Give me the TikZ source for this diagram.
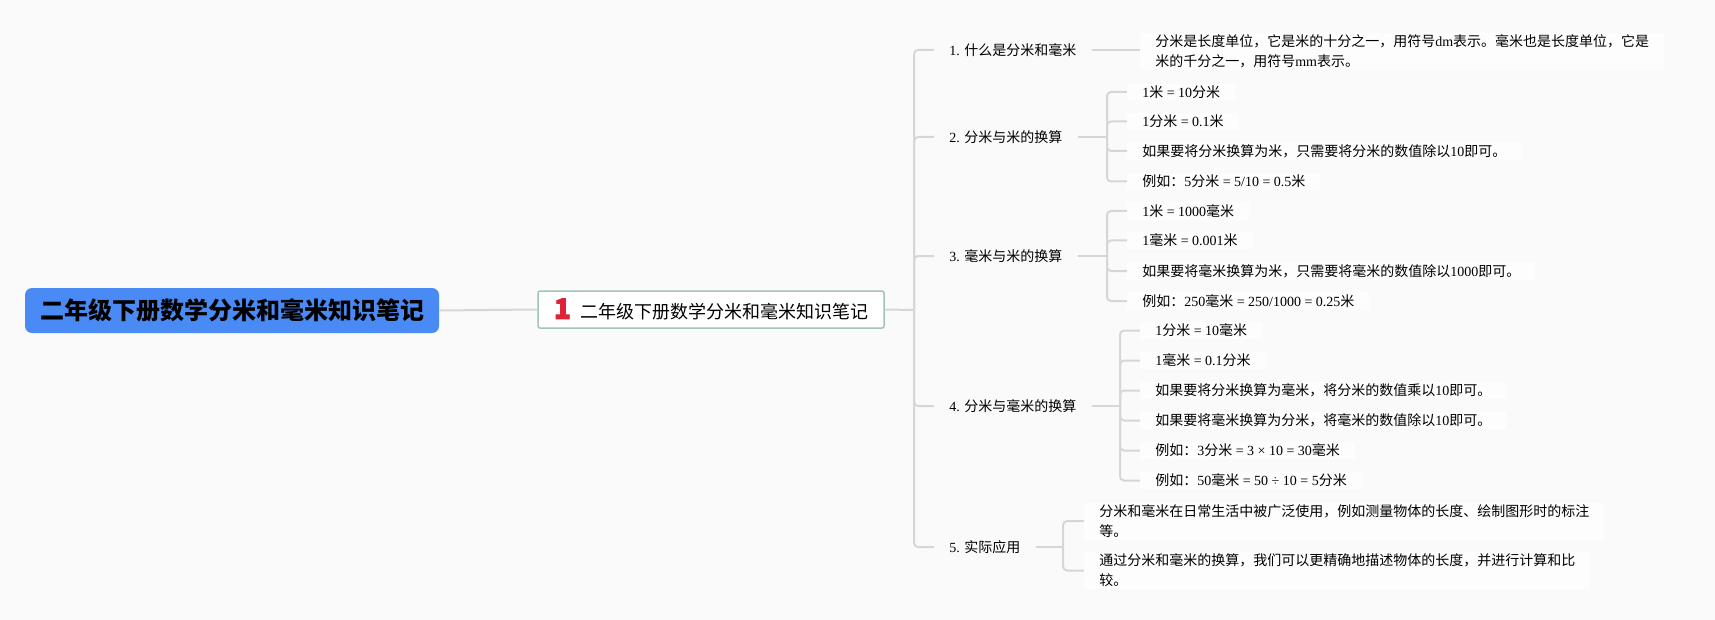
\documentclass[tikz,border=0pt]{standalone}
\usepackage{fontspec}
\setmainfont{Noto Sans CJK SC}
\newfontfamily\latfont{Liberation Serif}
\newfontfamily\iconfont{Noto Sans CJK SC}[FakeBold=3]
\newcommand\Lat[1]{{\latfont #1}}
\newdimen\px \px=0.75pt
\definecolor{bgcol}{RGB}{250,250,250}
\definecolor{leafbg}{RGB}{253,253,253}
\definecolor{linegray}{RGB}{214,214,214}
\definecolor{rootblue}{RGB}{74,138,244}
\definecolor{subborder}{RGB}{160,196,186}
\definecolor{iconred}{RGB}{222,34,56}
\begin{document}
\begin{tikzpicture}[x=0.75pt,y=-0.75pt,
  conn/.style={draw=linegray, line width=2\px},
  tree/.style={conn, rounded corners=4\px},
  lvone/.style={anchor=west, inner xsep=15\px, inner ysep=2\px, font=\fontsize{10.5pt}{15pt}\selectfont, text=black},
  leaf/.style={lvone, fill=leafbg, align=left},
  rootbox/.style={fill=rootblue, rounded corners=7\px, minimum width=414\px, minimum height=45\px, inner sep=0pt, font=\fontsize{18pt}{22pt}\selectfont\bfseries, text=black},
  subbox/.style={draw=subborder, fill=white, line width=1.5\px, rounded corners=2\px, minimum width=346\px, minimum height=37\px, inner sep=0pt, font=\fontsize{13.5pt}{17pt}\selectfont, text=black}]
\useasboundingbox[fill=bgcol] (0,0) rectangle (1715,620);

% main nodes
\node[rootbox] (root) at (232,310.5) {二年级下册数学分米和毫米知识笔记};
\node[subbox] (sub) at (711,309.5) {{\iconfont\bfseries\fontsize{21pt}{21pt}\selectfont\color{iconred}1}\hspace{9\px}二年级下册数学分米和毫米知识笔记};
\draw[conn] (root.east) -- (sub.west);

% level one
\node[lvone] (l1) at (934,50) {\Lat{1. }什么是分米和毫米};
\node[lvone] (l2) at (934,137) {\Lat{2. }分米与米的换算};
\node[lvone] (l3) at (934,256) {\Lat{3. }毫米与米的换算};
\node[lvone] (l4) at (934,406) {\Lat{4. }分米与毫米的换算};
\node[lvone] (l5) at (934,547) {\Lat{5. }实际应用};

\coordinate (t) at (914,310);
\draw[conn] (sub.east) -- (t);
\foreach \n in {l1,l2,l3,l4,l5} \draw[tree] (t) |- (\n.west);

% item 1
\node[leaf] (c1) at (1140,51.5) {分米是长度单位，它是米的十分之一，用符号\Lat{dm}表示。毫米也是长度单位，它是\\米的千分之一，用符号\Lat{mm}表示。};
\draw[conn] (l1.east) -- (l1.east -| c1.west);

% item 2
\node[leaf] (c21) at (1127,92) {\Lat{1}米\Lat{ = 10}分米};
\node[leaf] (c22) at (1127,121.5) {\Lat{1}分米\Lat{ = 0.1}米};
\node[leaf] (c23) at (1127,151) {如果要将分米换算为米，只需要将分米的数值除以\Lat{10}即可。};
\node[leaf] (c24) at (1127,181.5) {例如：\Lat{5}分米\Lat{ = 5/10 = 0.5}米};
\coordinate (s2) at (1107,137);
\draw[conn] (l2.east) -- (s2);
\foreach \n in {c21,c22,c23,c24} \draw[tree] (s2) |- (\n.west);

% item 3
\node[leaf] (c31) at (1127,211) {\Lat{1}米\Lat{ = 1000}毫米};
\node[leaf] (c32) at (1127,240.5) {\Lat{1}毫米\Lat{ = 0.001}米};
\node[leaf] (c33) at (1127,271) {如果要将毫米换算为米，只需要将毫米的数值除以\Lat{1000}即可。};
\node[leaf] (c34) at (1127,301) {例如：\Lat{250}毫米\Lat{ = 250/1000 = 0.25}米};
\coordinate (s3) at (1107,256);
\draw[conn] (l3.east) -- (s3);
\foreach \n in {c31,c32,c33,c34} \draw[tree] (s3) |- (\n.west);

% item 4
\node[leaf] (c41) at (1140,330.5) {\Lat{1}分米\Lat{ = 10}毫米};
\node[leaf] (c42) at (1140,360.5) {\Lat{1}毫米\Lat{ = 0.1}分米};
\node[leaf] (c43) at (1140,390.5) {如果要将分米换算为毫米，将分米的数值乘以\Lat{10}即可。};
\node[leaf] (c44) at (1140,420.5) {如果要将毫米换算为分米，将毫米的数值除以\Lat{10}即可。};
\node[leaf] (c45) at (1140,450.5) {例如：\Lat{3}分米\Lat{ = 3 × 10 = 30}毫米};
\node[leaf] (c46) at (1140,480.5) {例如：\Lat{50}毫米\Lat{ = 50 ÷ 10 = 5}分米};
\coordinate (s4) at (1120,406);
\draw[conn] (l4.east) -- (s4);
\foreach \n in {c41,c42,c43,c44,c45,c46} \draw[tree] (s4) |- (\n.west);

% item 5
\node[leaf] (c51) at (1084,521) {分米和毫米在日常生活中被广泛使用，例如测量物体的长度、绘制图形时的标注\\等。};
\node[leaf] (c52) at (1084,570.5) {通过分米和毫米的换算，我们可以更精确地描述物体的长度，并进行计算和比\\较。};
\coordinate (s5) at (1063,547);
\draw[conn] (l5.east) -- (s5);
\foreach \n in {c51,c52} \draw[tree] (s5) |- (\n.west);
\end{tikzpicture}
\end{document}
